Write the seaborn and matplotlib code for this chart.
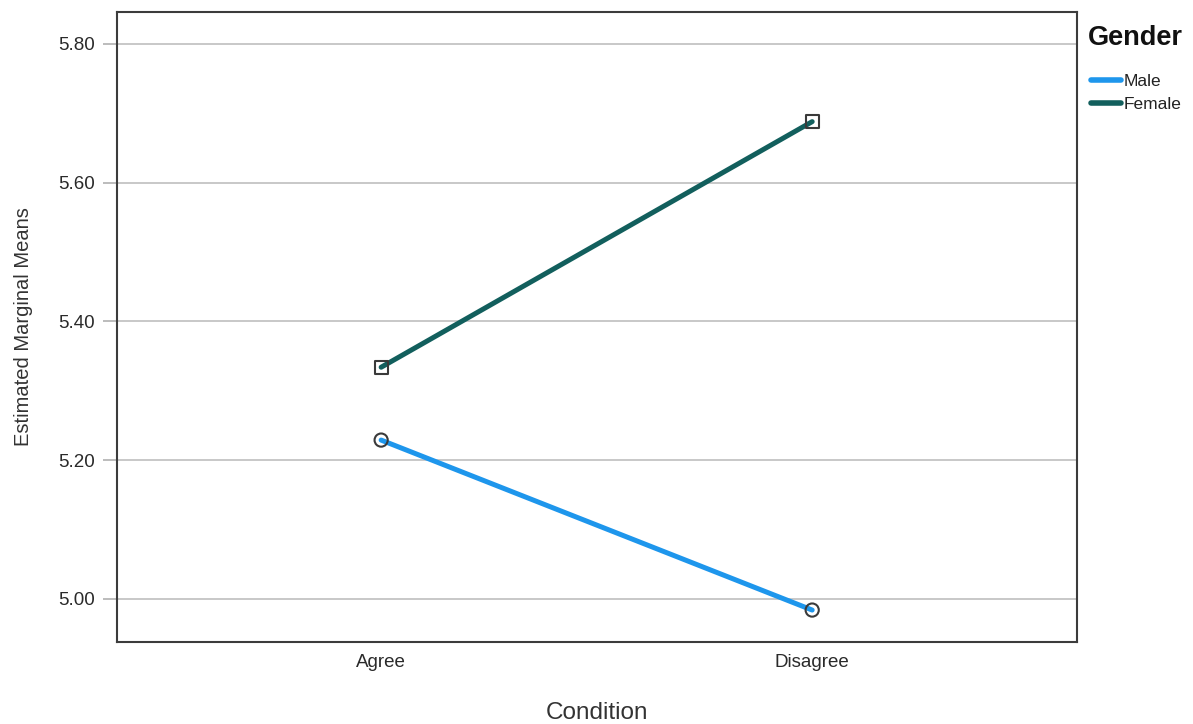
import pandas as pd
import matplotlib
matplotlib.use("Agg")
import matplotlib.pyplot as plt
import seaborn as sns
from matplotlib.lines import Line2D

# values
conditions = ["Agree", "Disagree"]
genders = ["Male", "Female"]
male_means = [5.229, 4.984]
female_means = [5.334, 5.688]
y_ticks = [5.00, 5.20, 5.40, 5.60, 5.80]

palette = {"Male": "#1e96ec", "Female": "#125f5d"}
markers = {"Male": "o", "Female": "s"}

data = pd.DataFrame({
    "Condition": conditions * 2,
    "Gender": ["Male"] * len(conditions) + ["Female"] * len(conditions),
    "Mean": male_means + female_means,
})

sns.set_style("white")
plt.rcParams["font.family"] = ["Liberation Sans", "DejaVu Sans"]

fig = plt.figure(figsize=(11.93, 7.24), dpi=100)
ax = fig.add_axes([0.098, 0.1133, 0.805, 0.8701])

# lines first, then hollow markers on top
sns.lineplot(data=data, x="Condition", y="Mean", hue="Gender", hue_order=genders,
             palette=palette, linewidth=3.6, legend=False, ax=ax)
sns.scatterplot(data=data, x="Condition", y="Mean", style="Gender", style_order=genders,
                markers=markers, s=90, facecolor="none", edgecolor="#3a3a3a",
                linewidth=1.5, legend=False, ax=ax, zorder=5)

ax.set_xlim(-0.613, 1.615)
ax.set_ylim(4.938, 5.846)
ax.set_yticks(y_ticks)
ax.set_yticklabels([f"{t:.2f}" for t in y_ticks])
ax.grid(axis="y", color="#c8c8c8", linewidth=1.4)
ax.set_axisbelow(True)

ax.tick_params(axis="y", length=10, width=1.2, color="#b0b0b0", pad=6,
               labelsize=13.5, labelcolor="#2a2a2a", left=True)
ax.tick_params(axis="x", length=0, pad=9, labelsize=13.5, labelcolor="#2a2a2a")

for sp in ax.spines.values():
    sp.set_visible(True)
    sp.set_color("#3c3c3c")
    sp.set_linewidth(1.5)

ax.set_xlabel("Condition", fontsize=17.5, color="#333333", labelpad=22)
ax.set_ylabel("Estimated Marginal Means", fontsize=14.5, color="#333333", labelpad=18)

# legend title drawn separately so the gap to the entries matches
fig.text(1088 / 1193, 1 - 38 / 724, "Gender", fontsize=19.5, fontweight="bold",
         color="#111111", ha="left", va="center")
handles = [Line2D([0], [0], color=palette[g], linewidth=4) for g in genders]
leg = fig.legend(handles, genders, loc="upper left",
                 bbox_to_anchor=(1084 / 1193, 1 - 67 / 724), frameon=False,
                 fontsize=12.5, handlelength=1.75, handletextpad=0.15,
                 labelspacing=0.45, borderaxespad=0)
for t in leg.get_texts():
    t.set_color("#222222")

fig.savefig("out.png", dpi=100)
